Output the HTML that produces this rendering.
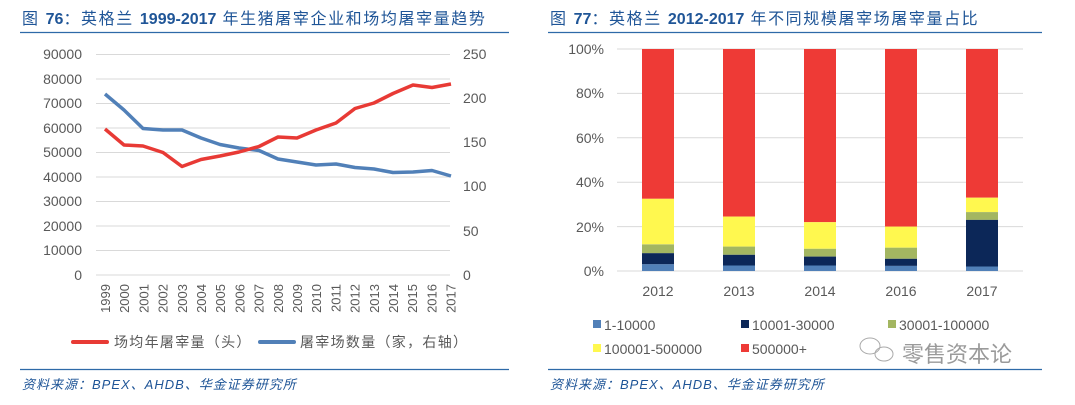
<!DOCTYPE html>
<html><head><meta charset="utf-8"><style>
body{margin:0;background:#fff;}
svg text{font-family:"Liberation Sans","Noto Sans CJK SC",sans-serif;}
</style></head><body>
<svg width="1075" height="400" xmlns="http://www.w3.org/2000/svg">
<rect width="1075" height="400" fill="#fff"/>
<text x="22" y="24" font-size="16" fill="#1f5597" letter-spacing="1.6">图 <tspan font-weight="bold" letter-spacing="0">76</tspan>：英格兰 <tspan font-weight="bold" letter-spacing="0">1999-2017</tspan> 年生猪屠宰企业和场均屠宰量趋势</text>
<line x1="20" y1="32.5" x2="509" y2="32.5" stroke="#2e6aa8" stroke-width="1.2"/>
<text x="550" y="24" font-size="16" fill="#1f5597" letter-spacing="1.6">图 <tspan font-weight="bold" letter-spacing="0">77</tspan>：英格兰 <tspan font-weight="bold" letter-spacing="0">2012-2017</tspan> 年不同规模屠宰场屠宰量占比</text>
<line x1="548" y1="32.5" x2="1042" y2="32.5" stroke="#2e6aa8" stroke-width="1.2"/>
<g stroke="#d9d9d9" stroke-width="1">
<line x1="96" x2="450" y1="54.5" y2="54.5"/><line x1="96" x2="450" y1="79" y2="79"/><line x1="96" x2="450" y1="103.5" y2="103.5"/><line x1="96" x2="450" y1="128" y2="128"/><line x1="96" x2="450" y1="152.5" y2="152.5"/><line x1="96" x2="450" y1="177" y2="177"/><line x1="96" x2="450" y1="201.5" y2="201.5"/><line x1="96" x2="450" y1="226" y2="226"/><line x1="96" x2="450" y1="250.5" y2="250.5"/><line x1="96" x2="450" y1="275" y2="275"/>
</g>
<g font-size="14" fill="#595959" text-anchor="end">
<text x="82" y="59">90000</text><text x="82" y="84">80000</text><text x="82" y="108">70000</text><text x="82" y="133">60000</text><text x="82" y="157">50000</text><text x="82" y="182">40000</text><text x="82" y="206">30000</text><text x="82" y="231">20000</text><text x="82" y="255">10000</text><text x="82" y="280">0</text>
</g>
<g font-size="14" fill="#595959">
<text x="463" y="59">250</text><text x="463" y="103">200</text><text x="463" y="147">150</text><text x="463" y="191">100</text><text x="463" y="236">50</text><text x="463" y="280">0</text>
</g>
<g font-size="13" fill="#595959" text-anchor="end">
<text transform="translate(110,284) rotate(-90)">1999</text><text transform="translate(129.2,284) rotate(-90)">2000</text><text transform="translate(148.4,284) rotate(-90)">2001</text><text transform="translate(167.6,284) rotate(-90)">2002</text><text transform="translate(186.8,284) rotate(-90)">2003</text><text transform="translate(206,284) rotate(-90)">2004</text><text transform="translate(225.2,284) rotate(-90)">2005</text><text transform="translate(244.4,284) rotate(-90)">2006</text><text transform="translate(263.6,284) rotate(-90)">2007</text><text transform="translate(282.8,284) rotate(-90)">2008</text><text transform="translate(302,284) rotate(-90)">2009</text><text transform="translate(321.2,284) rotate(-90)">2010</text><text transform="translate(340.4,284) rotate(-90)">2011</text><text transform="translate(359.6,284) rotate(-90)">2012</text><text transform="translate(378.8,284) rotate(-90)">2013</text><text transform="translate(398,284) rotate(-90)">2014</text><text transform="translate(417.2,284) rotate(-90)">2015</text><text transform="translate(436.4,284) rotate(-90)">2016</text><text transform="translate(455.6,284) rotate(-90)">2017</text>
</g>
<polyline fill="none" stroke="#5180b8" stroke-width="3.5" stroke-linejoin="round" points="105,94 124,110 143,128.5 163,130 182,130 201,138 220,144.5 239,148 259,150.5 278,159 297,162 316,165 336,164 355,167.5 374,169 393,172.5 413,172 432,170.5 451,176"/>
<polyline fill="none" stroke="#e83a35" stroke-width="3.5" stroke-linejoin="round" points="105,129 124,145 143,146 163,152.5 182,166.5 201,159.5 220,156 239,152 259,146.5 278,137 297,138 316,130 336,123 355,108.5 374,103 393,93.5 413,85 432,87.5 451,84"/>
<line x1="73" y1="342" x2="107" y2="342" stroke="#e83a35" stroke-width="4" stroke-linecap="round"/>
<text x="114" y="347" font-size="14" fill="#595959" letter-spacing="1.3">场均年屠宰量（头）</text>
<line x1="260" y1="342" x2="294" y2="342" stroke="#5180b8" stroke-width="4" stroke-linecap="round"/>
<text x="300" y="347" font-size="14" fill="#595959" letter-spacing="1.3">屠宰场数量（家，右轴）</text>
<line x1="20" y1="369.5" x2="509" y2="369.5" stroke="#2e6aa8" stroke-width="1.2"/>
<text x="22" y="389" font-size="13" font-style="italic" fill="#1f5597" letter-spacing="1">资料来源：BPEX、AHDB、华金证券研究所</text>
<g stroke="#d9d9d9" stroke-width="1">
<line x1="617" x2="1023" y1="49" y2="49"/><line x1="617" x2="1023" y1="93.4" y2="93.4"/><line x1="617" x2="1023" y1="137.8" y2="137.8"/><line x1="617" x2="1023" y1="182.2" y2="182.2"/><line x1="617" x2="1023" y1="226.6" y2="226.6"/><line x1="617" x2="1023" y1="271" y2="271"/>
</g>
<g font-size="14" fill="#595959" text-anchor="end">
<text x="604" y="54">100%</text><text x="604" y="98">80%</text><text x="604" y="143">60%</text><text x="604" y="187">40%</text><text x="604" y="232">20%</text><text x="604" y="276">0%</text>
</g>
<g>
<rect x="642" y="49" width="32" height="149.8" fill="#ee3a36"/>
<rect x="642" y="198.8" width="32" height="45.5" fill="#fff84f"/>
<rect x="642" y="244.4" width="32" height="8.9" fill="#a3b661"/>
<rect x="642" y="253.2" width="32" height="11.1" fill="#0c2758"/>
<rect x="642" y="264.3" width="32" height="6.7" fill="#5180b8"/>
<rect x="723" y="49" width="32" height="167.6" fill="#ee3a36"/>
<rect x="723" y="216.6" width="32" height="30" fill="#fff84f"/>
<rect x="723" y="246.6" width="32" height="8.2" fill="#a3b661"/>
<rect x="723" y="254.8" width="32" height="10.7" fill="#0c2758"/>
<rect x="723" y="265.5" width="32" height="5.5" fill="#5180b8"/>
<rect x="804" y="49" width="32" height="173.2" fill="#ee3a36"/>
<rect x="804" y="222.2" width="32" height="26.6" fill="#fff84f"/>
<rect x="804" y="248.8" width="32" height="7.8" fill="#a3b661"/>
<rect x="804" y="256.6" width="32" height="8.9" fill="#0c2758"/>
<rect x="804" y="265.5" width="32" height="5.5" fill="#5180b8"/>
<rect x="885" y="49" width="32" height="177.6" fill="#ee3a36"/>
<rect x="885" y="226.6" width="32" height="21.1" fill="#fff84f"/>
<rect x="885" y="247.7" width="32" height="11.1" fill="#a3b661"/>
<rect x="885" y="258.8" width="32" height="7.1" fill="#0c2758"/>
<rect x="885" y="265.9" width="32" height="5.1" fill="#5180b8"/>
<rect x="966" y="49" width="32" height="148.7" fill="#ee3a36"/>
<rect x="966" y="197.7" width="32" height="14.4" fill="#fff84f"/>
<rect x="966" y="212.1" width="32" height="7.8" fill="#a3b661"/>
<rect x="966" y="219.9" width="32" height="46.6" fill="#0c2758"/>
<rect x="966" y="266.5" width="32" height="4.5" fill="#5180b8"/>
</g>
<g font-size="14" fill="#595959" text-anchor="middle">
<text x="658" y="296">2012</text><text x="739" y="296">2013</text><text x="820" y="296">2014</text><text x="901" y="296">2016</text><text x="982" y="296">2017</text>
</g>
<g font-size="14" fill="#595959">
<rect x="593" y="320" width="8" height="8" fill="#5180b8"/><text x="604" y="330">1-10000</text>
<rect x="741" y="320" width="8" height="8" fill="#0c2758"/><text x="752" y="330">10001-30000</text>
<rect x="888" y="320" width="8" height="8" fill="#a3b661"/><text x="899" y="330">30001-100000</text>
<rect x="593" y="344" width="8" height="8" fill="#fff84f"/><text x="604" y="354">100001-500000</text>
<rect x="741" y="344" width="8" height="8" fill="#ee3a36"/><text x="752" y="354">500000+</text>
</g>
<g fill="none" stroke="#aaa" stroke-width="1">
<ellipse cx="870" cy="346" rx="10" ry="8"/><ellipse cx="884" cy="354" rx="9" ry="7"/>
</g>
<text x="902" y="362" font-size="22" fill="#9a9a9a">零售资本论</text>
<line x1="548" y1="369.5" x2="1042" y2="369.5" stroke="#2e6aa8" stroke-width="1.2"/>
<text x="550" y="389" font-size="13" font-style="italic" fill="#1f5597" letter-spacing="1">资料来源：BPEX、AHDB、华金证券研究所</text>
</svg>
</body></html>
